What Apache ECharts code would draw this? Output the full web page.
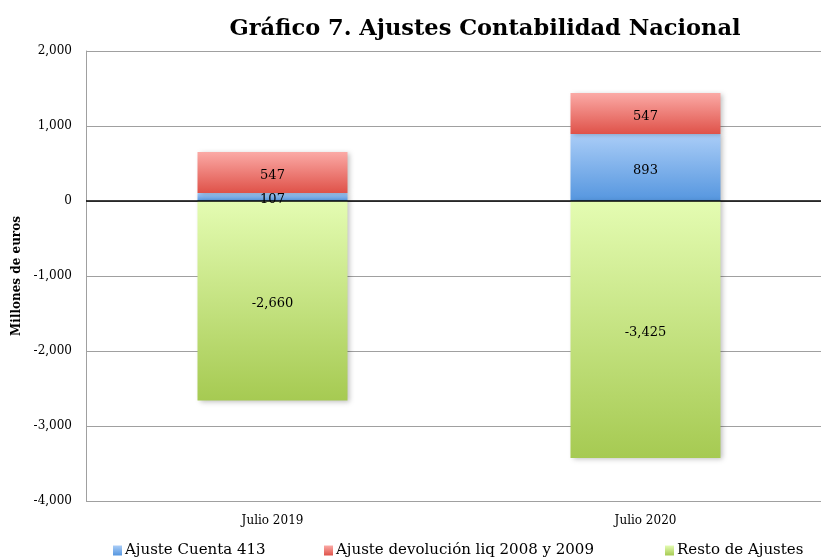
<!DOCTYPE html>
<html>
<head>
<meta charset="utf-8">
<script src="https://cdn.jsdelivr.net/npm/echarts@6/dist/echarts.min.js"></script>
<style>html,body{margin:0;padding:0;background:#fff}#c{width:821px;height:557px}</style>
</head>
<body>
<div id="c"></div>
<script>
const categories = ['Julio 2019', 'Julio 2020'];
const ajusteCuenta413 = [107, 893];
const ajusteDevolucion = [547, 547];
const restoAjustes = [-2660, -3425];
const yTicks = { min: -4000, max: 2000, interval: 1000 };

const FONT = '"DejaVu Serif", "Liberation Serif", serif';
const fmt = v => Number(v).toLocaleString('en-US');
function grad(top, bottom) {
  return new echarts.graphic.LinearGradient(0, 0, 0, 1, [
    { offset: 0, color: top }, { offset: 1, color: bottom }
  ]);
}
const cBlue = grad('#aacdf7', '#5596df');
const cRed = grad('#fbaaa6', '#df5249');
const cGreen = grad('#e4fcb2', '#a6ca52');
const shadow = { shadowBlur: 5, shadowColor: 'rgba(0,0,0,0.25)', shadowOffsetX: 2, shadowOffsetY: 1 };
const lbl = { show: true, position: 'inside', offset: [0, 3], color: '#000', fontFamily: FONT, fontSize: 13, formatter: p => fmt(p.value) };
const legText = { fontFamily: FONT, fontSize: 15, color: '#000', padding: [0, 0, 0, -2] };
const legBase = { top: 538, itemWidth: 9, itemHeight: 10, icon: 'rect', textStyle: legText };

const chart = echarts.init(document.getElementById('c'), null, { renderer: 'canvas' });
chart.setOption({
  animation: false,
  title: {
    text: 'Gráfico 7. Ajustes Contabilidad Nacional',
    left: 480, top: 13, textAlign: 'center',
    textStyle: { fontFamily: FONT, fontWeight: 'bold', fontSize: 22.5, color: '#000' }
  },
  legend: [
    Object.assign({ data: [{ name: 'Ajuste Cuenta 413', itemStyle: { color: cBlue } }], left: 108 }, legBase),
    Object.assign({ data: [{ name: 'Ajuste devolución liq 2008 y 2009', itemStyle: { color: cRed } }], left: 319 }, legBase),
    Object.assign({ data: [{ name: 'Resto de Ajustes', itemStyle: { color: cGreen } }], left: 660 }, legBase)
  ],
  grid: { left: 86, right: -11, top: 51, bottom: 56, containLabel: false, outerBoundsMode: 'none' },
  xAxis: {
    type: 'category', data: categories, position: 'bottom',
    axisLine: { show: false }, axisTick: { show: false },
    axisLabel: { fontFamily: FONT, fontSize: 12, color: '#000', margin: 14 }
  },
  yAxis: {
    type: 'value', min: yTicks.min, max: yTicks.max, interval: yTicks.interval,
    name: 'Millones de euros', nameLocation: 'middle', nameGap: 56,
    nameTextStyle: { fontFamily: FONT, fontWeight: 'bold', fontSize: 12, color: '#000' },
    axisLine: { show: true, lineStyle: { color: '#a0a0a0', width: 1 } },
    axisTick: { show: false },
    axisLabel: { fontFamily: FONT, fontSize: 12, color: '#000', margin: 14, formatter: fmt },
    splitLine: { show: true, lineStyle: { color: '#a0a0a0', width: 1 } }
  },
  series: [
    { name: 'Ajuste Cuenta 413', type: 'bar', stack: 'a', data: ajusteCuenta413, barWidth: 150,
      itemStyle: Object.assign({ color: cBlue }, shadow), label: lbl },
    { name: 'Ajuste devolución liq 2008 y 2009', type: 'bar', stack: 'a', data: ajusteDevolucion, barWidth: 150,
      itemStyle: Object.assign({ color: cRed }, shadow), label: lbl },
    { name: 'Resto de Ajustes', type: 'bar', stack: 'a', data: restoAjustes, barWidth: 150,
      itemStyle: Object.assign({ color: cGreen }, shadow), label: lbl,
      markLine: { silent: true, symbol: 'none', z: 10, label: { show: false },
        lineStyle: { color: '#000', width: 1.5, type: 'solid' }, data: [{ yAxis: 0 }] } }
  ]
});
</script>
</body>
</html>
